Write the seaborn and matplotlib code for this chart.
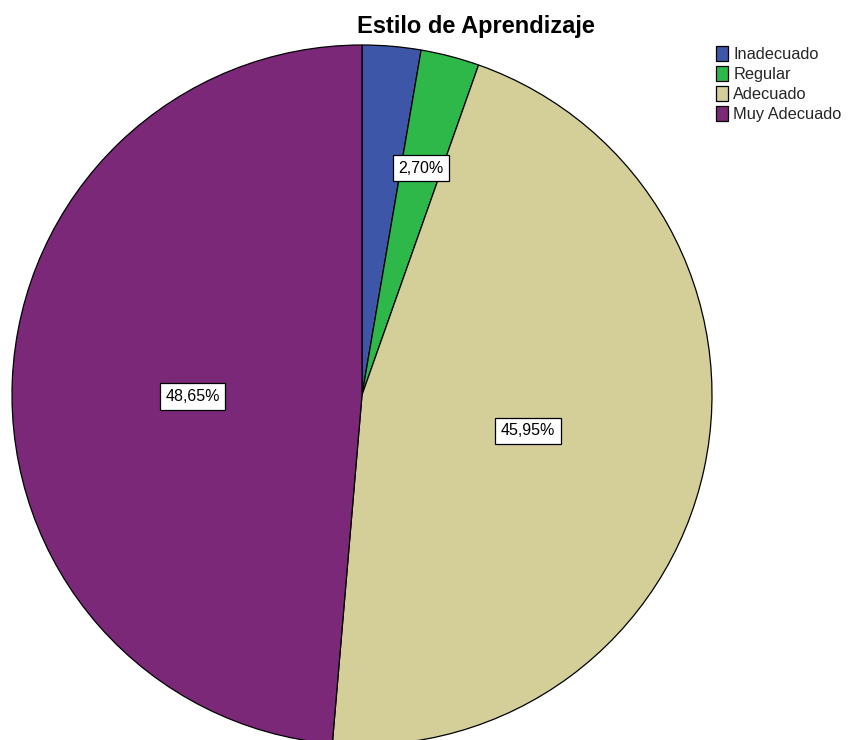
import numpy as np
import matplotlib
matplotlib.use("Agg")
import matplotlib.pyplot as plt
import matplotlib.patches as mpatches
import seaborn as sns

categories = ["Inadecuado", "Regular", "Adecuado", "Muy Adecuado"]
counts = [1, 1, 17, 18]
show_label = [False, True, True, True]
colors_hex = ["#3D56A8", "#2EB84A", "#D4CE99", "#7B2879"]
title = "Estilo de Aprendizaje"

sns.set_theme(style="white")
plt.rcParams["font.family"] = ["Liberation Sans", "DejaVu Sans"]
palette = sns.color_palette(colors_hex)

W, H = 848, 740
fig = plt.figure(figsize=(W / 100, H / 100), dpi=100)
fig.patch.set_facecolor("white")
# pie box in pixels: x 12..712, y 45..745 (top-down)
ax = fig.add_axes([12 / W, (H - 745) / H, 700 / W, 700 / H])
ax.set_axis_off()

wedges, _ = ax.pie(counts, colors=palette, startangle=90, counterclock=False,
                   radius=1.0,
                   wedgeprops=dict(edgecolor="black", linewidth=0.9))
ax.set_xlim(-1, 1)
ax.set_ylim(-1, 1)
for w in wedges:
    w.set_clip_on(False)

total = sum(counts)
for w, c, show in zip(wedges, counts, show_label):
    if not show:
        continue
    pct = 100.0 * c / total
    mid = np.deg2rad((w.theta1 + w.theta2) / 2)
    dist = 0.67 if pct < 5 else 0.485
    x, y = dist * np.cos(mid), dist * np.sin(mid)
    if pct > 48:
        y -= 0.025
    ax.text(x, y, f"{pct:.2f}%".replace(".", ","), ha="center", va="center",
            fontsize=11.5, color="black",
            bbox=dict(boxstyle="square,pad=0.35", facecolor="white",
                      edgecolor="black", linewidth=0.9))

fig.text(476 / W, 1 - 27 / H, title, ha="center", va="center",
         fontsize=17, fontweight="bold", color="black")

handles = [mpatches.Patch(facecolor=col, edgecolor="black", linewidth=0.9, label=cat)
           for col, cat in zip(palette, categories)]
leg = fig.legend(handles=handles, loc="upper left",
                 bbox_to_anchor=(716 / W, 1 - 46 / H), frameon=False,
                 fontsize=11.8, handlelength=0.75, handleheight=1.0,
                 handletextpad=0.3, labelspacing=0.25, borderaxespad=0,
                 borderpad=0)

fig.savefig("out.png", dpi=100, facecolor="white")
